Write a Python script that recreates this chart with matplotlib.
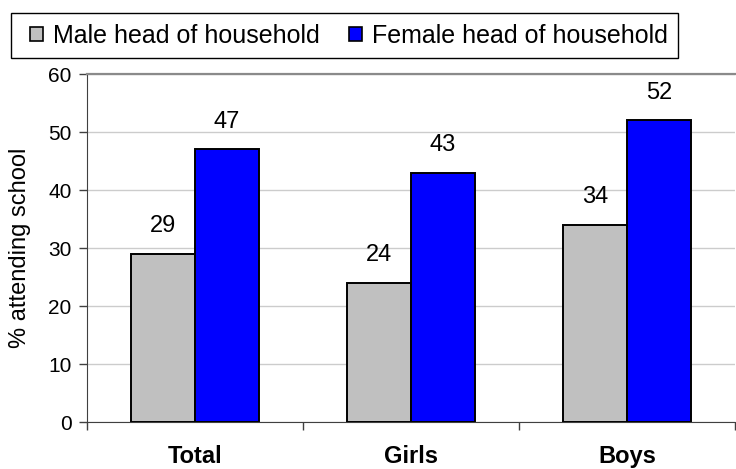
import matplotlib
matplotlib.use("Agg")
import matplotlib.pyplot as plt
from matplotlib.patches import Rectangle
import numpy as np

categories = ["Total", "Girls", "Boys"]
male_head = [29, 24, 34]
female_head = [47, 43, 52]
series_names = ["Male head of household", "Female head of household"]
y_ticks = [0, 10, 20, 30, 40, 50, 60]

plt.rcParams["font.family"] = ["Liberation Sans", "DejaVu Sans"]

W, H = 736, 469
fig = plt.figure(figsize=(W / 100, H / 100), dpi=100)
ax = fig.add_axes([87 / W, 1 - 422 / H, 648 / W, 348 / H])

x = np.arange(len(categories))
w = 0.294
b1 = ax.bar(x - w / 2, male_head, w, color="#c0c0c0", edgecolor="black", linewidth=1.4,
            label=series_names[0], zorder=3)
b2 = ax.bar(x + w / 2, female_head, w, color="#0000ff", edgecolor="black", linewidth=1.4,
            label=series_names[1], zorder=3)

for bars, vals in ((b1, male_head), (b2, female_head)):
    for r, v in zip(bars, vals):
        ax.annotate(str(v), (r.get_x() + r.get_width() / 2, v), xytext=(0, 20),
                    textcoords="offset points", ha="center", va="center", fontsize=17)

ax.set_xlim(-0.5, len(categories) - 0.5)
ax.set_ylim(0, 60)
ax.set_yticks(y_ticks)
ax.set_yticklabels([str(t) for t in y_ticks], fontsize=15)
ax.yaxis.grid(True, color="#cccccc", linewidth=1, zorder=0)
ax.set_axisbelow(True)

# tick marks sit on the category boundaries; names are centred between them
ax.set_xticks(np.arange(len(categories) + 1) - 0.5)
ax.set_xticklabels([])
ax.tick_params(axis="x", direction="out", length=6, width=1, color="#404040")
ax.tick_params(axis="y", direction="out", length=6, width=1, color="#404040", pad=5)
for i, c in enumerate(categories):
    ax.text(i, -0.098, c, transform=ax.get_xaxis_transform(), ha="center", va="center",
            fontsize=17, fontweight="bold")

ax.spines["right"].set_visible(False)
ax.spines["top"].set_color("#8a8a8a")
ax.spines["top"].set_linewidth(1.6)
ax.spines["left"].set_color("#404040")
ax.spines["bottom"].set_color("#404040")

ax.set_ylabel("% attending school", fontsize=17)
ax.yaxis.set_label_coords(-0.086, 0.5)

# legend entries without their own frame; the box is drawn separately
leg = fig.legend(loc="center left", bbox_to_anchor=(30 / W, 1 - 36 / H), ncol=2,
                 frameon=False, fontsize=18, handlelength=0.52, handleheight=0.52,
                 handletextpad=0.4, columnspacing=1.16, borderpad=0, borderaxespad=0)
for h in leg.legend_handles:
    h.set_linewidth(1.2)
fig.add_artist(Rectangle((11 / W, 1 - 58 / H), 667 / W, 45 / H, transform=fig.transFigure,
                         fill=False, edgecolor="black", linewidth=1))

fig.savefig("out.png", dpi=100)
